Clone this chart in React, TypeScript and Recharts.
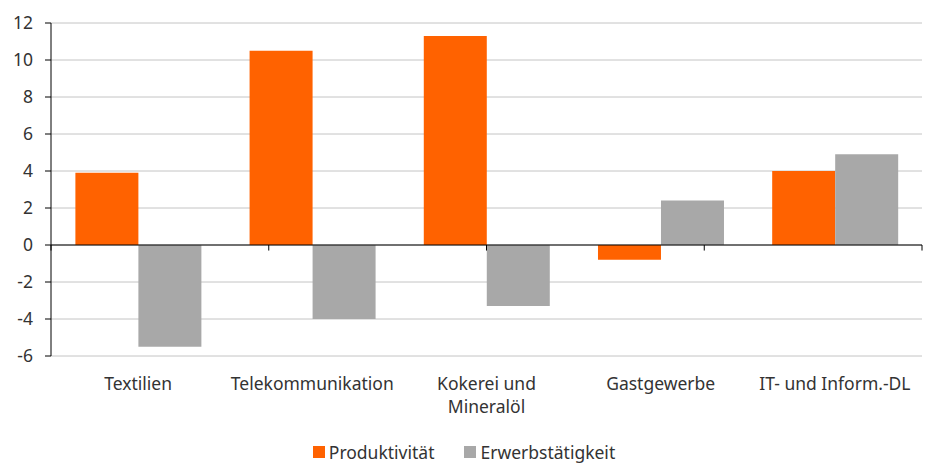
import { Bar, BarChart, CartesianGrid, Legend, ReferenceLine, XAxis, YAxis } from "recharts";

const categories = ["Textilien", "Telekommunikation", "Kokerei und\nMineralöl", "Gastgewerbe", "IT- und Inform.-DL"];
const produktivitaet = [3.9, 10.5, 11.3, -0.8, 4.0];
const erwerbstaetigkeit = [-5.5, -4.0, -3.3, 2.4, 4.9];
const yTicks = [-6, -4, -2, 0, 2, 4, 6, 8, 10, 12];
const boundaries = [0, 1, 2, 3, 4, 5];

const ORANGE = "#FF6200";
const GREY = "#A8A8A8";
const TEXT = "#333333";
const FONT = "'Noto Sans', sans-serif";

const data = categories.map((name, i) => ({
  name,
  prod: produktivitaet[i],
  erw: erwerbstaetigkeit[i],
}));

function CategoryTick({ x, y, payload }: any) {
  const lines = String(payload.value).split("\n");
  return (
    <text x={x} y={y} textAnchor="middle" fill={TEXT} fontSize={17.5} fontFamily={FONT}>
      {lines.map((l, i) => (
        <tspan key={i} x={x} dy={i === 0 ? 26 : 23}>
          {l}
        </tspan>
      ))}
    </text>
  );
}

function LegendBox() {
  const items = [
    { label: "Produktivität", color: ORANGE },
    { label: "Erwerbstätigkeit", color: GREY },
  ];
  return (
    <div
      style={{
        display: "flex",
        justifyContent: "center",
        gap: 30,
        paddingTop: 14,
        lineHeight: "18px",
        fontFamily: FONT,
        fontSize: 17.5,
        color: TEXT,
      }}
    >
      {items.map((it) => (
        <div key={it.label} style={{ display: "flex", alignItems: "center" }}>
          <span style={{ width: 12, height: 12, background: it.color, marginRight: 4, display: "inline-block" }} />
          {it.label}
        </div>
      ))}
    </div>
  );
}

export default function App() {
  return (
    <div style={{ position: "absolute", left: 0, top: 0, background: "#fff" }}>
      <BarChart
        width={925}
        height={463}
        data={data}
        margin={{ top: 23, right: 3, left: 6, bottom: 0 }}
        barCategoryGap="14%"
        barGap={0}
      >
        <CartesianGrid vertical={false} stroke="#c4c4c4" />
        <XAxis dataKey="name" height={73} axisLine={false} tickLine={false} tick={<CategoryTick />} interval={0} />
        <XAxis xAxisId="num" type="number" domain={[0, 5]} hide />
        <YAxis
          domain={[-6, 12]}
          ticks={yTicks}
          width={45}
          axisLine={{ stroke: "#000" }}
          tickLine={{ stroke: "#000" }}
          tickSize={6}
          tickMargin={12}
          tick={{ fill: TEXT, fontSize: 17.5, fontFamily: FONT }}
          interval={0}
        />
        <Bar dataKey="prod" name="Produktivität" fill={ORANGE} isAnimationActive={false} />
        <Bar dataKey="erw" name="Erwerbstätigkeit" fill={GREY} isAnimationActive={false} />
        <ReferenceLine y={0} stroke="#000" strokeWidth={1} />
        {boundaries.map((b) => (
          <ReferenceLine
            key={b}
            xAxisId="num"
            segment={[
              { x: b, y: 0 },
              { x: b, y: -0.3 },
            ]}
            stroke="#000"
          />
        ))}
        <Legend verticalAlign="bottom" height={34} content={<LegendBox />} />
      </BarChart>
    </div>
  );
}
